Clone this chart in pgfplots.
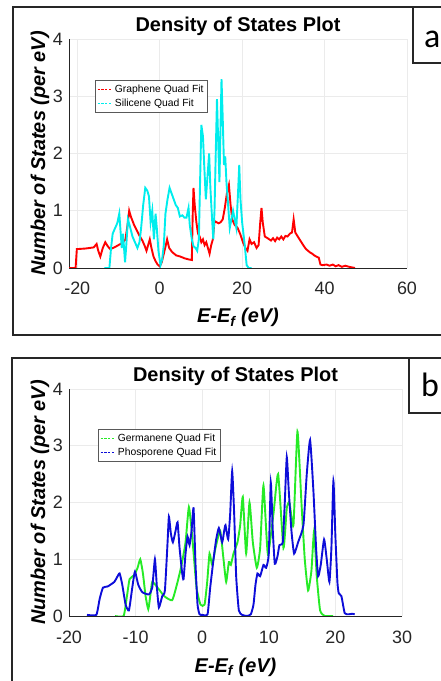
\documentclass[border=0pt]{standalone}
\usepackage{fontspec}
\setmainfont{Liberation Sans}
\newfontfamily\panelfont{Carlito}
\usepackage{pgfplots}
\pgfplotsset{compat=1.18}

\definecolor{mred}{rgb}{1,0,0}
\definecolor{mcyan}{rgb}{0,0.93,0.93}
\definecolor{mgreen}{rgb}{0.15,0.92,0.15}
\definecolor{mblue}{rgb}{0.05,0.05,0.85}
\definecolor{axgray}{rgb}{0.15,0.15,0.15}

\pgfplotsset{
  dosstyle/.style={
    scale only axis,
    anchor=south west,
    ymin=0, ymax=4,
    ytick={0,1,2,3,4},
    yticklabels={0,1,2,3,4},
    axis x line*=bottom,
    axis y line*=left,
    axis line style={axgray, line width=0.8bp},
    grid=major,
    grid style={gray!16, line width=0.6bp},
    major tick length=0pt,
    ticklabel style={font=\fontsize{18}{20}\selectfont, text=axgray},
    yticklabel style={anchor=east, inner sep=0pt, xshift=-6bp},
    title style={font=\bfseries\fontsize{20}{24}\selectfont, at={(0.5,1)}, anchor=base},
    ylabel style={font=\bfseries\itshape\fontsize{20}{24}\selectfont, anchor=center},
    xlabel style={font=\bfseries\itshape\fontsize{20}{24}\selectfont, anchor=base},
    title={Density of States Plot},
    ylabel={Number of States (per eV)},
    xlabel={E-E\textsubscript{f} (eV)},
    legend cell align=left,
    legend style={draw=gray!70!black, line width=0.6bp, fill=white,
      font=\fontsize{10.4}{12}\selectfont, inner xsep=2bp, inner ysep=2.5bp,
      row sep=1bp, anchor=north west,
      /tikz/every even column/.append style={column sep=3bp}},
    legend image code/.code={\path (0bp,0bp) -- (15bp,0bp);\draw[##1] (4bp,0bp) -- (15bp,0bp);},
    legend image post style={line width=0.6bp, dash pattern=on 2bp off 1.8bp},
  }
}

\begin{document}
\begin{tikzpicture}[x=1bp,y=1bp]
\path[use as bounding box] (0,0) rectangle (441,681);

% ---- panel a ----
\begin{axis}[dosstyle,
  at={(69bp,413bp)}, width=338bp, height=229bp,
  xmin=-22, xmax=60,
  xtick={-20,0,20,40,60}, xticklabels={-20,0,20,40,60},
  xticklabel style={anchor=base, yshift=-26.5bp},
  title style={yshift=2bp},
  ylabel style={at={(axis description cs:-0.0858,0.5)}},
  xlabel style={at={(axis description cs:0.5,-0.240)}},
  legend style={at={(axis description cs:0.077,0.821)}},
]
\addplot[mred, line width=1.9bp] coordinates {
(-22,0) (-20.4,0) (-20.1,0.33) (-18,0.34) (-16,0.36) (-15.3,0.42) (-14.9,0.3)
(-14.4,0.2) (-13.8,0.35) (-13.2,0.45) (-12.6,0.38) (-12,0.33) (-11,0.36) (-10,0.4)
(-9,0.44) (-8.3,0.5) (-7.8,0.75) (-7.4,1.0) (-7.0,0.9) (-6.2,0.75) (-5.5,0.65)
(-4.8,0.55) (-4.2,0.48) (-3.6,0.38) (-3.2,0.3) (-2.8,0.4) (-2.4,0.5) (-2,0.35)
(-1.5,0.2) (-1,0.12) (-0.5,0.06) (0,0.03) (0.5,0.1) (1.0,0.25) (1.5,0.4) (1.8,0.5)
(2.3,0.35) (3,0.28) (4,0.22) (5,0.2) (6,0.17) (7,0.15) (7.8,0.14) (8.0,0.9)
(8.2,1.4) (8.5,1.1) (8.9,0.8) (9.3,0.6) (9.7,0.55) (10.1,0.45) (10.5,0.5)
(10.9,0.4) (11.3,0.45) (11.7,0.35) (12.1,0.25) (12.5,0.4) (12.9,0.5) (13.3,0.82)
(13.8,0.8) (14.3,0.78) (14.8,0.8) (15.3,0.85) (15.8,1.05) (16.3,1.3) (16.8,1.45)
(17.2,1.1) (17.6,0.85) (18.2,0.75) (18.9,0.7) (19.5,0.6) (20.2,0.45) (20.8,0.35)
(21.3,0.3) (21.8,0.5) (22.3,0.42) (22.9,0.45) (23.5,0.35) (24.0,0.4) (24.4,0.8)
(24.7,1.05) (25.0,0.8) (25.5,0.55) (26.2,0.52) (27,0.48) (27.5,0.52) (28,0.47)
(28.5,0.53) (29,0.5) (29.5,0.55) (30,0.5) (30.5,0.56) (31,0.55) (31.6,0.6)
(32.1,0.62) (32.5,0.85) (32.9,0.62) (33.5,0.55) (34.2,0.47) (35,0.38) (35.5,0.33)
(36,0.3) (36.5,0.27) (37,0.25) (37.5,0.22) (38,0.2) (38.6,0.18) (39,0.06)
(39.5,0.05) (40.5,0.06) (41.2,0.04) (42,0.06) (42.7,0.03) (43.4,0.05) (44.2,0.02)
(45,0.04) (46,0.02) (47.4,0)
};
\addlegendentry{Graphene Quad Fit}
\addplot[mcyan, line width=1.9bp] coordinates {
(-13.4,0) (-12.2,0) (-11.8,0.35) (-11.4,0.6) (-10.8,0.7) (-10.3,0.78) (-9.8,0.95)
(-9.5,0.65) (-9.2,0.35) (-8.9,0.6) (-8.6,0.3) (-8.4,0.1) (-8.1,0.4) (-7.7,0.85)
(-7.2,0.72) (-6.6,0.55) (-6.0,0.45) (-5.4,0.35) (-4.9,0.45) (-4.5,0.7) (-4.0,1.1)
(-3.5,1.4) (-3.0,1.35) (-2.6,1.25) (-2.2,0.8) (-1.8,1.0) (-1.4,0.5) (-1.0,0.95)
(-0.7,0.7) (-0.3,0.3) (0.2,0.05) (0.6,0.15) (1.0,0.4) (1.4,0.95) (1.9,1.2)
(2.4,1.4) (2.9,1.3) (3.4,1.2) (3.9,1.1) (4.4,1.05) (4.9,0.9) (5.5,0.92) (6.0,0.88)
(6.5,0.88) (7.0,1.05) (7.3,0.75) (7.8,0.5) (8.2,0.38) (8.7,0.35) (9.1,0.3)
(9.5,0.5) (9.8,1.5) (10.1,2.5) (10.5,2.3) (10.8,1.8) (11.2,1.2) (11.6,1.6)
(12.0,2.0) (12.3,1.4) (12.6,1.0) (13.0,0.5) (13.3,1.0) (13.6,2.0) (13.9,2.95)
(14.2,2.2) (14.5,1.5) (14.8,2.6) (15.0,3.3) (15.3,2.6) (15.6,1.8) (15.9,1.95)
(16.2,1.5) (16.6,1.1) (17.0,0.7) (17.4,0.85) (17.8,1.0) (18.2,0.85) (18.6,0.7)
(19.0,1.3) (19.3,1.8) (19.6,1.2) (20.0,0.8) (20.4,0.55) (20.7,0.35) (21.1,0.05)
(21.6,0.0) (22.3,0)
};
\addlegendentry{Silicene Quad Fit}
\end{axis}

% ---- panel b ----
\begin{axis}[dosstyle,
  at={(69bp,65bp)}, width=333bp, height=227bp,
  xmin=-20, xmax=30,
  xtick={-20,-10,0,10,20,30}, xticklabels={-20,-10,0,10,20,30},
  xticklabel style={anchor=base, yshift=-27.5bp},
  title style={yshift=1.5bp},
  ylabel style={at={(axis description cs:-0.0871,0.5)}},
  xlabel style={at={(axis description cs:0.5,-0.2467)}},
  legend style={at={(axis description cs:0.087,0.824)}},
]
\addplot[mgreen, line width=1.9bp, smooth, tension=0.3] coordinates {
(-13.1,0) (-11.8,0.0) (-11.3,0.35) (-10.9,0.65) (-10.2,0.72) (-9.7,0.85) (-9.3,1.0)
(-8.9,0.75) (-8.5,0.35) (-8.1,0.12) (-7.8,0.35) (-7.5,0.6) (-6.7,0.5) (-5.7,0.35)
(-4.5,0.28) (-3.7,0.6) (-3.1,0.9) (-2.5,1.3) (-2.0,1.92) (-1.5,1.4) (-0.85,0.5)
(-0.25,0.2) (0.35,0.2) (0.75,0.6) (1.1,1.1) (1.5,0.9) (2.0,1.2) (2.7,1.5)
(3.2,1.0) (3.6,0.6) (4.0,0.95) (4.3,0.9) (4.7,1.1) (5.3,1.3) (5.7,1.6) (6.1,2.1)
(6.6,1.1) (7.1,2.0) (7.6,1.3) (8.2,0.85) (8.7,1.2) (9.2,2.3) (9.85,1.1) (10.7,1.8)
(11.4,2.5) (12.2,1.2) (12.7,1.9) (13.1,2.0) (13.7,1.6) (14.3,3.25) (14.9,2.0)
(15.4,1.0) (15.9,0.45) (16.4,0.8) (16.8,1.5) (17.2,0.7) (17.7,0.1) (18.4,0.0)
(19.65,0)
};
\addlegendentry{Germanene Quad Fit}
\addplot[mblue, line width=1.9bp, smooth, tension=0.3] coordinates {
(-17.3,0.02) (-15.9,0.02) (-15.4,0.3) (-14.9,0.5) (-14.2,0.52) (-13.2,0.6)
(-12.8,0.68) (-12.4,0.75) (-12.0,0.55) (-11.5,0.2) (-11.0,0.1) (-10.5,0.5)
(-10.1,0.78) (-9.6,0.55) (-9.0,0.42) (-8.0,0.38) (-7.5,0.5) (-7.1,1.0) (-6.8,0.5)
(-6.5,0.15) (-6.0,0.35) (-5.6,0.45) (-5.2,1.3) (-5.0,1.75) (-4.7,1.45) (-4.4,1.3)
(-4.0,1.5) (-3.7,1.65) (-3.4,1.2) (-3.0,0.75) (-2.8,0.65) (-2.5,1.1) (-2.2,1.4)
(-1.9,1.25) (-1.6,1.5) (-1.3,1.9) (-1.0,0.9) (-0.7,0.2) (-0.4,0.03) (0,0.02)
(0.8,0.03) (1.2,0.5) (1.7,1.0) (2.1,1.35) (2.5,1.55) (3.0,1.3) (3.3,1.5) (3.5,1.6)
(3.9,1.35) (4.2,1.8) (4.5,2.55) (4.8,1.8) (5.1,0.7) (5.5,0.1) (6.0,0.02) (6.7,0.0)
(7.3,0.03) (7.7,0.2) (8.0,0.55) (8.3,0.75) (8.7,0.7) (9.2,0.9) (9.6,0.85)
(10.0,1.1) (10.3,2.35) (10.6,1.5) (10.9,0.92) (11.3,1.05) (11.6,1.25) (12.1,1.3)
(12.4,2.0) (12.7,2.8) (13.0,2.2) (13.4,1.5) (13.8,1.1) (14.4,1.3) (15.2,1.6)
(15.7,2.5) (16.2,3.1) (16.7,2.2) (17.1,1.2) (17.4,0.7) (17.8,0.9) (18.3,1.35)
(18.7,1.0) (19.1,0.6) (19.4,1.2) (19.7,2.38) (20.0,1.4) (20.3,0.6) (20.5,0.4)
(20.9,0.35) (21.4,0.05) (22.0,0.03) (22.5,0.04) (22.9,0.03)
};
\addlegendentry{Phosporene Quad Fit}
\end{axis}

% panel frames and letters
\draw[black!85, line width=1.5bp] (13,346) rectangle (446,674);
\draw[black!85, line width=1.3bp] (413,674) rectangle (446,618);
\node[anchor=base west, inner sep=0pt, font=\panelfont\fontsize{34}{36}\selectfont] at (424,633) {a};
\draw[black!85, line width=1.5bp] (12,-6) rectangle (446,323);
\draw[black!85, line width=1.3bp] (409,323) rectangle (446,268);
\node[anchor=base west, inner sep=0pt, font=\panelfont\fontsize{34}{36}\selectfont] at (421,284) {b};
\end{tikzpicture}
\end{document}
